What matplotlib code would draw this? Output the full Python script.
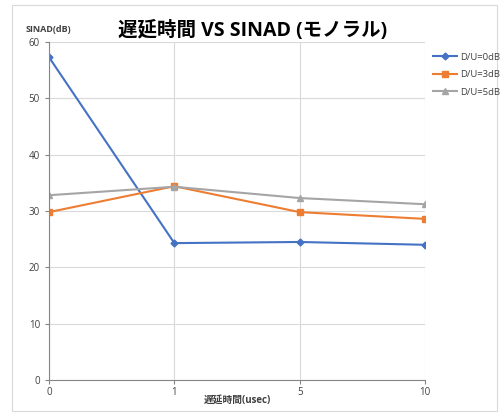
import matplotlib
matplotlib.use("Agg")
import matplotlib.pyplot as plt
from matplotlib.patches import Rectangle

plt.rcParams['font.family'] = ['Open Sans', 'Noto Sans CJK JP', 'DejaVu Sans']

categories = ['0', '1', '5', '10']
du0 = [57.3, 24.3, 24.5, 24.0]
du3 = [29.8, 34.4, 29.8, 28.6]
du5 = [32.8, 34.3, 32.3, 31.2]
yticks = [0, 10, 20, 30, 40, 50, 60]

fig = plt.figure(figsize=(5.04, 4.13), dpi=100)
fig.patches.append(Rectangle((12/504, 2/413), 485/504, 406/413, transform=fig.transFigure,
                             fill=False, edgecolor='#d9d9d9', linewidth=0.8))
ax = fig.add_axes([49/504, 33/413, 376/504, 338/413])

x = list(range(len(categories)))
ax.plot(x, du0, color='#4472c4', marker='D', markersize=3.5, linewidth=1.5, label='D/U=0dB')
ax.plot(x, du3, color='#ed7d31', marker='s', markersize=5, linewidth=1.5, label='D/U=3dB')
ax.plot(x, du5, color='#a5a5a5', marker='^', markersize=5, linewidth=1.5, label='D/U=5dB')

ax.set_xlim(0, 3)
ax.set_ylim(0, 60)
ax.set_xticks(x)
ax.set_xticklabels(categories)
ax.set_yticks(yticks)
ax.grid(True, color='#d9d9d9', linewidth=0.8)
ax.set_axisbelow(True)
for s in ['top', 'right']:
    ax.spines[s].set_visible(False)
for s in ['left', 'bottom']:
    ax.spines[s].set_color('#868686')
ax.tick_params(axis='both', labelsize=7, colors='#404040', length=3, width=0.8)
ax.tick_params(axis='both', color='#868686')
ax.tick_params(axis='x', pad=2)
ax.set_xlabel('遅延時間(usec)', fontsize=7, fontweight='bold', color='#404040', labelpad=-2)

fig.text(26/504, 1 - 29/413, 'SINAD(dB)', fontsize=6.5, fontweight='bold', color='#404040',
         ha='left', va='center')
fig.text(253/504, 1 - 31/413, '遅延時間 VS SINAD (モノラル)', fontsize=14, fontweight='bold',
         color='#000000', ha='center', va='center')

leg = fig.legend(loc='upper left', bbox_to_anchor=(429/504, 1 - 49/413), frameon=False,
                 fontsize=6.8, handlelength=2.6, labelspacing=0.9, handletextpad=0.3,
                 borderaxespad=0)
for t in leg.get_texts():
    t.set_color('#404040')

fig.savefig('out.png', dpi=100)
